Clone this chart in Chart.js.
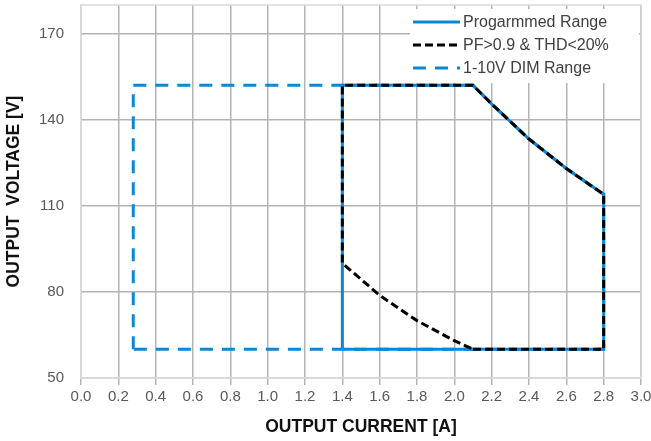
<!DOCTYPE html>
<html>
<head>
<meta charset="utf-8">
<script src="https://cdn.jsdelivr.net/npm/chart.js@4"></script>
<style>
html,body{margin:0;padding:0;background:#fff;}
#wrap{width:651px;height:441px;}
</style>
</head>
<body>
<div id="wrap"><canvas id="c" width="651" height="441"></canvas></div>
<script>
// Data (Output current [A], Output voltage [V])
const programmedX = [1.4, 2.8, 2.8, 2.6, 2.4, 2.2, 2.1, 1.4, 1.4];
const programmedY = [60, 60, 114, 123, 133.3, 145.5, 152, 152, 60];

const pfX = [2.1, 2.8, 2.8, 2.6, 2.4, 2.2, 2.1, 1.4, 1.4, 1.6, 1.8, 2.0, 2.1];
const pfY = [60, 60, 114, 123, 133.3, 145.5, 152, 152, 90, 78.8, 70, 63, 60];

const dimX = [0.28, 0.28, 2.1, 2.2, 2.4, 2.6, 2.8, 2.8, 0.28];
const dimY = [60, 152, 152, 145.5, 133.3, 123, 114, 60, 60];

const xTicks = [0.0, 0.2, 0.4, 0.6, 0.8, 1.0, 1.2, 1.4, 1.6, 1.8, 2.0, 2.2, 2.4, 2.6, 2.8, 3.0];
const yTicks = [50, 80, 110, 140, 170];

const seriesLabels = ['Progarmmed Range', 'PF>0.9 & THD<20%', '1-10V DIM Range'];

const BLUE = '#0b87da';
const FONT = '"Liberation Sans", Arial, sans-serif';
const toPts = (xs, ys) => xs.map((x, i) => ({x: x, y: ys[i]}));

const legendPlugin = {
  id: 'insideLegend',
  afterDatasetsDraw(chart) {
    const ctx = chart.ctx;
    const area = chart.chartArea;
    const x0 = 410, y0 = area.top + 4, w = area.right - x0 - 2, h = 74;
    ctx.save();
    ctx.fillStyle = '#fff';
    ctx.fillRect(x0, y0, w, h);
    ctx.font = '16px ' + FONT;
    ctx.textBaseline = 'middle';
    chart.data.datasets.forEach((ds, i) => {
      const y = y0 + 13 + i * 23;
      ctx.beginPath();
      ctx.setLineDash(ds.borderDash || []);
      ctx.lineDashOffset = 0;
      ctx.strokeStyle = ds.borderColor;
      ctx.lineWidth = ds.borderWidth;
      ctx.moveTo(x0 + 3, y);
      ctx.lineTo(x0 + 50, y);
      ctx.stroke();
      ctx.setLineDash([]);
      ctx.fillStyle = '#404040';
      ctx.fillText(ds.label, x0 + 53, y + 1);
    });
    ctx.restore();
  }
};

new Chart(document.getElementById('c'), {
  type: 'scatter',
  data: {
    datasets: [
      {label: seriesLabels[0], data: toPts(programmedX, programmedY), showLine: true,
       borderColor: BLUE, borderWidth: 3, pointRadius: 0, order: 1, fill: false},
      {label: seriesLabels[1], data: toPts(pfX, pfY), showLine: true,
       borderColor: '#000', borderWidth: 3, borderDash: [8, 4], pointRadius: 0, order: 0, fill: false},
      {label: seriesLabels[2], data: toPts(dimX, dimY), showLine: true,
       borderColor: BLUE, borderWidth: 3, borderDash: [13, 9], pointRadius: 0, order: 2, fill: false}
    ]
  },
  options: {
    responsive: false,
    animation: false,
    layout: {padding: {left: 4, right: 10, top: 5, bottom: 3}},
    plugins: {legend: {display: false}, tooltip: {enabled: false}},
    scales: {
      x: {
        type: 'linear', min: 0, max: 3.0,
        afterBuildTicks(s) { s.ticks = xTicks.map(v => ({value: v})); },
        afterFit(s) { s.height = 60; s.paddingLeft = 0; s.paddingRight = 0; },
        ticks: {
          callback: v => Number(v).toFixed(1),
          color: '#595959', font: {family: FONT, size: 15},
          padding: 3, maxRotation: 0, autoSkip: false
        },
        grid: {color: '#b3b3b3', lineWidth: 1.5, tickLength: 7, drawTicks: true},
        border: {color: '#d9d9d9', width: 1.5},
        title: {display: true, text: 'OUTPUT CURRENT [A]', color: '#111',
          font: {family: FONT, size: 17.5, weight: 'bold'}, padding: {top: 4, bottom: 0}}
      },
      y: {
        type: 'linear', min: 50, max: 180,
        afterBuildTicks(s) { s.ticks = yTicks.map(v => ({value: v})); },
        afterFit(s) { s.width = 77; s.paddingTop = 0; s.paddingBottom = 0; },
        ticks: {
          color: '#595959', font: {family: FONT, size: 15},
          padding: 17
        },
        grid: {color: '#b3b3b3', lineWidth: 1.5, drawTicks: false},
        border: {color: '#d9d9d9', width: 1.5},
        title: {display: true, text: 'OUTPUT  VOLTAGE [V]', color: '#111',
          font: {family: FONT, size: 17.5, weight: 'bold'}, padding: {top: 0, bottom: 4}}
      }
    }
  },
  plugins: [legendPlugin, {
    id: 'frame',
    beforeDatasetsDraw(chart) {
      const {ctx, chartArea: a} = chart;
      ctx.save();
      ctx.strokeStyle = '#d9d9d9';
      ctx.lineWidth = 1.5;
      ctx.beginPath();
      ctx.moveTo(a.left, a.top); ctx.lineTo(a.right, a.top); ctx.lineTo(a.right, a.bottom);
      ctx.stroke();
      ctx.restore();
    }
  }]
});
</script>
</body>
</html>
